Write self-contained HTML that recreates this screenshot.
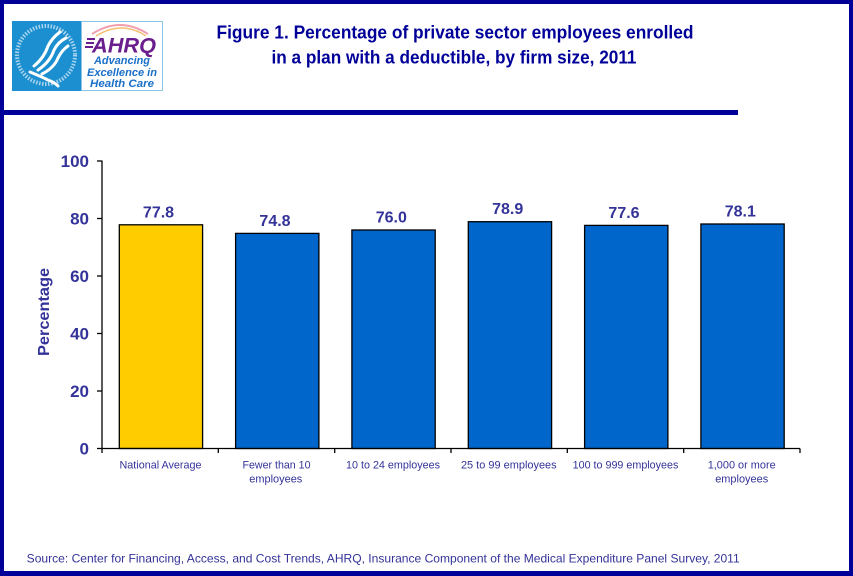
<!DOCTYPE html>
<html><head><meta charset="utf-8"><style>
html,body{margin:0;padding:0;background:#fff;}
svg{display:block;}
text{font-family:"Liberation Sans",Arial,sans-serif;}
</style></head><body>
<svg width="853" height="576" viewBox="0 0 853 576" xmlns="http://www.w3.org/2000/svg">
<rect x="0" y="0" width="853" height="576" fill="#000099"/>
<rect x="4" y="4" width="845" height="567" fill="#ffffff"/>
<rect x="0" y="110" width="738" height="5" fill="#000099"/>

<!-- Logo -->
<rect x="12" y="21" width="69" height="70" fill="#1b8fd0"/>
<circle cx="46" cy="55" r="29" fill="none" stroke="#cfe6f5" stroke-width="4" stroke-dasharray="1.5 1.5" opacity="0.8"/>
<g fill="none" stroke="#ffffff" stroke-width="3" stroke-linecap="round">
<path d="M34 66 Q44 58 48 46 Q52 38 60 32"/>
<path d="M38 70 Q50 62 54 50 Q58 42 66 38"/>
<path d="M42 74 Q54 68 58 58 Q62 50 68 46"/>
<path d="M30 72 Q40 76 48 80 Q54 82 58 86"/>
</g>
<rect x="81.5" y="21.5" width="81" height="69" fill="#ffffff" stroke="#8cc4e6" stroke-width="1"/>
<path d="M92 34 Q120 16 148 34" fill="none" stroke="#f0a0b0" stroke-width="2"/>
<path d="M96 36 Q122 20 146 36" fill="none" stroke="#f5c070" stroke-width="1.5"/>
<g fill="#6a1d8c">
<rect x="87" y="38" width="8" height="2"/>
<rect x="86" y="42" width="8" height="2"/>
<rect x="85" y="46" width="8" height="2"/>
</g>
<text x="92" y="52.5" font-size="21" font-weight="bold" font-style="italic" fill="#6a1d8c" textLength="64" lengthAdjust="spacingAndGlyphs">AHRQ</text>
<text x="122" y="64" font-size="11" font-weight="bold" font-style="italic" fill="#1a6fc8" text-anchor="middle" textLength="56" lengthAdjust="spacingAndGlyphs">Advancing</text>
<text x="122" y="76" font-size="11" font-weight="bold" font-style="italic" fill="#1a6fc8" text-anchor="middle" textLength="70" lengthAdjust="spacingAndGlyphs">Excellence in</text>
<text x="122" y="87" font-size="11" font-weight="bold" font-style="italic" fill="#1a6fc8" text-anchor="middle" textLength="64" lengthAdjust="spacingAndGlyphs">Health Care</text>

<!-- Title -->
<text x="455" y="38.3" font-size="18" font-weight="bold" fill="#000099" text-anchor="middle" textLength="477" lengthAdjust="spacingAndGlyphs">Figure 1. Percentage of private sector employees enrolled</text>
<text x="454" y="63.3" font-size="18" font-weight="bold" fill="#000099" text-anchor="middle" textLength="365" lengthAdjust="spacingAndGlyphs">in a plan with a deductible, by firm size, 2011</text>

<!-- Y axis -->
<g stroke="#000" stroke-width="1.3">
<line x1="102" y1="160.5" x2="102" y2="449"/>
<line x1="97" y1="161" x2="102" y2="161"/>
<line x1="97" y1="218.5" x2="102" y2="218.5"/>
<line x1="97" y1="276" x2="102" y2="276"/>
<line x1="97" y1="333.5" x2="102" y2="333.5"/>
<line x1="97" y1="391" x2="102" y2="391"/>
<line x1="97" y1="448.5" x2="102" y2="448.5"/>
</g>
<g font-size="17" font-weight="bold" fill="#333399" text-anchor="end">
<text x="89" y="167">100</text>
<text x="89" y="224.5">80</text>
<text x="89" y="282">60</text>
<text x="89" y="339.5">40</text>
<text x="89" y="397">20</text>
<text x="89" y="454.5">0</text>
</g>
<text transform="translate(49,312) rotate(-90)" font-size="16" font-weight="bold" fill="#333399" text-anchor="middle" textLength="88" lengthAdjust="spacingAndGlyphs">Percentage</text>

<!-- Bars -->
<g stroke="#000" stroke-width="1.3">
<rect x="119.3" y="224.8" width="83.3" height="223.7" fill="#ffcc00"/>
<rect x="235.6" y="233.4" width="83.3" height="215.1" fill="#0066cc"/>
<rect x="351.9" y="230.0" width="83.3" height="218.5" fill="#0066cc"/>
<rect x="468.3" y="221.7" width="83.3" height="226.8" fill="#0066cc"/>
<rect x="584.6" y="225.4" width="83.3" height="223.1" fill="#0066cc"/>
<rect x="700.9" y="224.0" width="83.3" height="224.5" fill="#0066cc"/>
</g>

<!-- X axis -->
<g stroke="#000" stroke-width="1.3">
<line x1="102" y1="448.5" x2="800" y2="448.5"/>
<line x1="102" y1="448.5" x2="102" y2="453"/>
<line x1="218.3" y1="448.5" x2="218.3" y2="453"/>
<line x1="334.7" y1="448.5" x2="334.7" y2="453"/>
<line x1="451" y1="448.5" x2="451" y2="453"/>
<line x1="567.3" y1="448.5" x2="567.3" y2="453"/>
<line x1="683.7" y1="448.5" x2="683.7" y2="453"/>
<line x1="800" y1="448.5" x2="800" y2="453"/>
</g>

<!-- Value labels -->
<g font-size="16" font-weight="bold" fill="#333399" text-anchor="middle">
<text x="158.5" y="217.3">77.8</text>
<text x="275" y="225.9">74.8</text>
<text x="391.3" y="222.5">76.0</text>
<text x="507.7" y="214.2">78.9</text>
<text x="624" y="217.9">77.6</text>
<text x="740.3" y="216.5">78.1</text>
</g>

<!-- Category labels -->
<g font-size="11" fill="#333399" text-anchor="middle">
<text x="160.5" y="468.5" textLength="82" lengthAdjust="spacingAndGlyphs">National Average</text>
<text x="276.5" y="468.5" textLength="68" lengthAdjust="spacingAndGlyphs">Fewer than 10</text>
<text x="275.8" y="482.5" textLength="53" lengthAdjust="spacingAndGlyphs">employees</text>
<text x="393" y="468.5" textLength="94" lengthAdjust="spacingAndGlyphs">10 to 24 employees</text>
<text x="508.8" y="468.5" textLength="95.7" lengthAdjust="spacingAndGlyphs">25 to 99 employees</text>
<text x="625.5" y="468.5" textLength="105.7" lengthAdjust="spacingAndGlyphs">100 to 999 employees</text>
<text x="741.7" y="468.5" textLength="68" lengthAdjust="spacingAndGlyphs">1,000 or more</text>
<text x="741.7" y="482.5" textLength="53" lengthAdjust="spacingAndGlyphs">employees</text>
</g>

<!-- Source -->
<text x="26.7" y="562.3" font-size="12" fill="#333399" textLength="713" lengthAdjust="spacingAndGlyphs">Source: Center for Financing, Access, and Cost Trends, AHRQ, Insurance Component of the Medical Expenditure Panel Survey,  2011</text>
</svg>
</body></html>
